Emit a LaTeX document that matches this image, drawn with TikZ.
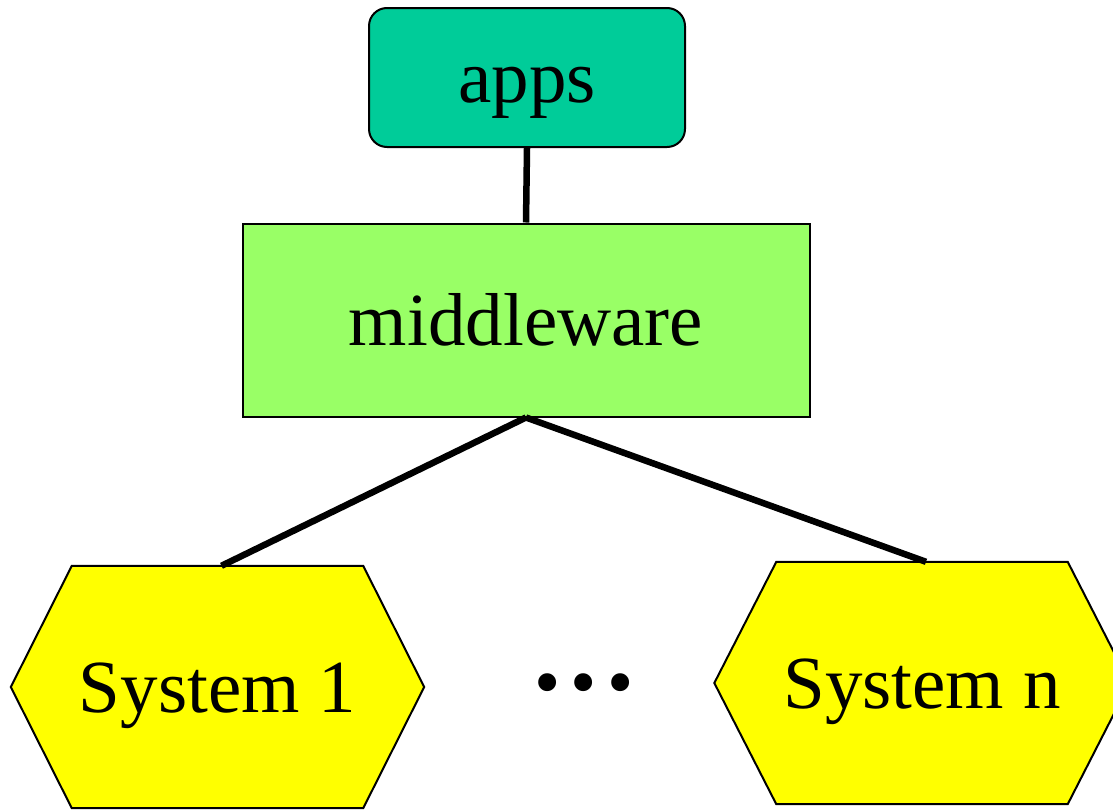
\documentclass[tikz,border=0pt]{standalone}
\usepackage{fontspec}
\setmainfont{Liberation Serif}
\usetikzlibrary{backgrounds}
\definecolor{appsgreen}{RGB}{0,204,153}
\definecolor{mwgreen}{RGB}{153,255,102}
\definecolor{sysyellow}{RGB}{255,255,0}
\begin{document}
\begin{tikzpicture}[x=1pt,y=-1pt,
  every node/.style={font=\fontsize{75}{82}\selectfont, inner sep=0pt,
    text height=50pt, text depth=0pt},
  appsbox/.style={draw, line width=2pt, fill=appsgreen, rounded corners=18pt,
    minimum width=316pt, minimum height=139pt},
  mwbox/.style={draw, line width=2pt, fill=mwgreen,
    minimum width=567pt, minimum height=193pt},
  hexcore/.style={minimum width=291pt, minimum height=242pt},
  hexface/.style={draw, line width=2pt, fill=sysyellow, line join=miter},
  wire/.style={line width=6.5pt}]
\useasboundingbox (0,0) rectangle (1113,809);

% boxes
\node[appsbox] (apps) at (527,77.5) {apps};
\node[mwbox] (mw) at (526,320) {middleware};
\node[hexcore] (sys1) at (217.5,687) {System 1};
\node[hexcore] (sysn) at (922,683) {System n};
\node (dots) at (584,682) {\textbullet\hspace{10pt}\textbullet\hspace{10pt}\textbullet};

% hexagonal outlines behind the system labels
\begin{scope}[on background layer]
  \draw[hexface] (sys1.north west) -- (sys1.north east) -- ([xshift=61pt]sys1.east)
    -- (sys1.south east) -- (sys1.south west) -- ([xshift=-61pt]sys1.west) -- cycle;
  \draw[hexface] (sysn.north west) -- (sysn.north east) -- ([xshift=62pt]sysn.east)
    -- (sysn.south east) -- (sysn.south west) -- ([xshift=-62pt]sysn.west) -- cycle;
\end{scope}

% connections
\draw[wire] (apps.south) -- (mw.north);
\draw[wire] (mw.south) -- ([xshift=4pt]sys1.north);
\draw[wire] (mw.south) -- ([xshift=4pt]sysn.north);
\end{tikzpicture}
\end{document}
